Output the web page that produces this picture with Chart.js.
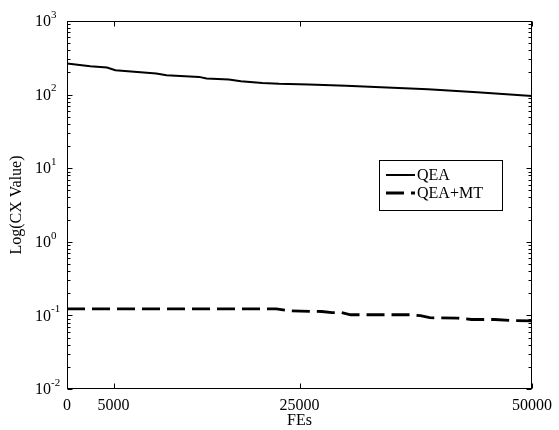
<!DOCTYPE html>
<html><head><meta charset="utf-8">
<script src="https://cdn.jsdelivr.net/npm/chart.js@4"></script>
<style>html,body{margin:0;padding:0;background:#fff}</style>
</head><body>
<canvas id="c" width="559" height="430"></canvas>
<script>
const xTickValues = [0, 5000, 25000, 50000];
const yDecades = [0.01, 0.1, 1, 10, 100, 1000];
const yExponents = ['-2', '-1', '0', '1', '2', '3'];
const seriesLabels = ['QEA', 'QEA+MT'];
const qeaFEs = [0, 2500, 4300, 5200, 9600, 10700, 14200, 15000, 17400, 18700, 21000, 22800, 26000, 30000, 38800, 44100, 50000];
const qeaValues = [264, 243, 233, 214, 193, 183, 174, 165, 160, 152, 144, 140, 137, 132, 118, 108, 96];
const mtFEs = [0, 22500, 24000, 27400, 28500, 29500, 30500, 37000, 38000, 39000, 42000, 43500, 46000, 48000, 50000];
const mtValues = [0.123, 0.123, 0.115, 0.113, 0.109, 0.109, 0.102, 0.102, 0.099, 0.093, 0.092, 0.088, 0.088, 0.085, 0.084];

const FONT = 'Liberation Serif, Times New Roman, serif';

const toPoints = (xs, ys) => xs.map((x, i) => ({x: x, y: ys[i]}));

const framePlugin = {
  id: 'frame',
  afterDraw(chart) {
    const ctx = chart.ctx;
    const a = chart.chartArea;
    const xs = chart.scales.x, ys = chart.scales.y;
    ctx.save();
    ctx.strokeStyle = '#000';
    ctx.lineWidth = 1;
    const L = Math.round(a.left) + 0.5, R = Math.round(a.right) - 0.5;
    const T = Math.round(a.top) + 0.5, B = Math.round(a.bottom) - 0.5;
    ctx.strokeRect(L, T, R - L, B - T);
    ctx.beginPath();
    xTickValues.forEach(v => {
      const px = Math.round(xs.getPixelForValue(v)) + 0.5;
      ctx.moveTo(px, B); ctx.lineTo(px, B - 5);
      ctx.moveTo(px, T); ctx.lineTo(px, T + 5);
    });
    yDecades.forEach(d => {
      for (let m = 1; m <= 9; m++) {
        const v = d * m;
        if (v > ys.max * 1.0001) continue;
        const py = Math.round(ys.getPixelForValue(v)) + 0.5;
        const len = m === 1 ? 5 : 3;
        ctx.moveTo(L, py); ctx.lineTo(L + len, py);
        ctx.moveTo(R, py); ctx.lineTo(R - len, py);
      }
    });
    ctx.stroke();
    // y tick labels with superscript exponents
    ctx.fillStyle = '#000';
    yDecades.forEach((d, i) => {
      const py = ys.getPixelForValue(d);
      const bx = a.left - 16;
      ctx.font = '16px ' + FONT;
      ctx.textAlign = 'right';
      ctx.textBaseline = 'middle';
      ctx.fillText('10', bx, py + 1);
      ctx.font = '11px ' + FONT;
      ctx.textAlign = 'left';
      ctx.fillText(yExponents[i], bx, py - 6);
    });
    // legend
    const lx = 379.5, ly = 160.5, lw = 123, lh = 50;
    ctx.fillStyle = '#fff';
    ctx.fillRect(lx, ly, lw, lh);
    ctx.strokeRect(lx, ly, lw, lh);
    chart.data.datasets.forEach((ds, i) => {
      const yy = 175 + i * 18;
      ctx.save();
      ctx.strokeStyle = ds.borderColor;
      ctx.lineWidth = ds.borderWidth;
      ctx.setLineDash(ds.borderDash || []);
      ctx.beginPath();
      ctx.moveTo(386, yy); ctx.lineTo(415, yy);
      ctx.stroke();
      ctx.restore();
      ctx.fillStyle = '#000';
      ctx.font = '16px ' + FONT;
      ctx.textAlign = 'left';
      ctx.textBaseline = 'middle';
      ctx.fillText(ds.label, 417, yy + 1);
    });
    ctx.restore();
  }
};

new Chart(document.getElementById('c'), {
  type: 'line',
  data: {
    datasets: [
      {label: seriesLabels[0], data: toPoints(qeaFEs, qeaValues), borderColor: '#000', borderWidth: 2, pointRadius: 0, tension: 0, fill: false},
      {label: seriesLabels[1], data: toPoints(mtFEs, mtValues), borderColor: '#000', borderWidth: 2.8, borderDash: [18, 7], pointRadius: 0, tension: 0, fill: false}
    ]
  },
  options: {
    responsive: false,
    animation: false,
    layout: {padding: {top: 21, right: 24, left: 0, bottom: 0}},
    plugins: {legend: {display: false}, tooltip: {enabled: false}},
    scales: {
      x: {
        type: 'linear', min: 0, max: 50000,
        afterBuildTicks: s => { s.ticks = xTickValues.map(v => ({value: v})); },
        afterFit: s => { s.height = 41; },
        grid: {display: false, drawTicks: false},
        border: {display: false},
        ticks: {font: {family: FONT, size: 16}, color: '#000', padding: 7, maxRotation: 0, autoSkip: false, callback: v => String(v)},
        title: {display: true, text: 'FEs', font: {family: FONT, size: 16}, color: '#000', padding: {top: 0, bottom: 0}}
      },
      y: {
        type: 'logarithmic', min: 0.01, max: 1000,
        afterFit: s => { s.width = 67; },
        grid: {display: false, drawTicks: false},
        border: {display: false},
        ticks: {display: false},
        title: {display: true, text: 'Log(CX Value)', font: {family: FONT, size: 16}, color: '#000', padding: {top: 7, bottom: 0}}
      }
    }
  },
  plugins: [framePlugin]
});
</script>
</body></html>
